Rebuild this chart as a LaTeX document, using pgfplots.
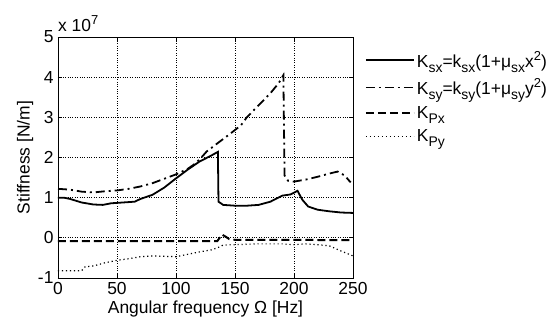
\documentclass[border=0pt]{standalone}
\usepackage{pgfplots}
\pgfplotsset{compat=1.18}
\usepackage{fontspec}
\setmainfont{Liberation Sans}
\newcommand\sub[1]{\raisebox{-0.55ex}{\fontsize{14}{14}\selectfont #1}}
\newcommand\sps[1]{\raisebox{0.75ex}{\fontsize{13}{13}\selectfont #1}}
\newcommand\fs{\fontsize{17.5}{20}\selectfont}
\begin{document}
\begin{tikzpicture}
\begin{axis}[
  scale only axis,
  width=295bp, height=241bp,
  xmin=0, xmax=250, ymin=-1, ymax=5,
  xtick={0,50,...,250}, ytick={-1,0,...,5},
  scaled ticks=false,
  /pgf/number format/assume math mode=true,
  tick label style={font=\fs},
  xticklabel style={yshift=-1bp},
  yticklabel style={xshift=-1bp},
  label style={font=\fs},
  xlabel={Angular frequency Ω [Hz]},
  ylabel={Stiffness [N/m]},
  xlabel style={yshift=1bp},
  ylabel style={yshift=-2bp},
  grid=major,
  major grid style={black, dotted, line width=0.8pt},
  axis line style={black, line width=0.9pt},
  tick align=inside,
  tick style={black, line width=0.8pt},
  major tick length=4bp,
  xtick pos=both, ytick pos=both,
  clip=true,
  legend style={draw=none, fill=none, at={(1.04,0.95)}, anchor=north west,
    font=\fs, row sep=6bp, inner sep=0pt},
  legend cell align=left,
  legend image code/.code={\draw[#1] (0bp,0bp) -- (48bp,0bp);},
]
\addplot[black, line width=1.8pt] coordinates {
(0,1.0) (5,1.0) (10,0.97) (20,0.88) (30,0.83) (38,0.82) (45,0.86) (55,0.88)
(65,0.9) (70,0.97) (80,1.07) (90,1.25) (100,1.48) (110,1.7) (120,1.9)
(130,2.05) (135.5,2.14) (136,0.9) (140,0.82) (150,0.8) (160,0.8) (170,0.82)
(180,0.9) (190,1.05) (197,1.08) (203,1.17) (207,0.95) (212,0.78) (220,0.7)
(230,0.66) (240,0.63) (250,0.62)
};
\addlegendentry{K\sub{sx}=k\sub{sx}(1+μ\sub{sx}x\sps{2})}
\addplot[black, line width=1.8pt, dash pattern=on 9bp off 4bp on 2bp off 4bp] coordinates {
(0,1.22) (10,1.2) (20,1.15) (30,1.13) (40,1.16) (50,1.18) (60,1.22) (70,1.28)
(80,1.36) (90,1.47) (100,1.58) (110,1.72) (115,1.82) (120,1.95) (126,2.15)
(135,2.35) (145,2.57) (155,2.8) (160,3.0) (170,3.3) (180,3.6) (187,3.85)
(191,4.05) (192,1.55) (195,1.42) (200,1.4) (210,1.45) (220,1.52) (230,1.6)
(237,1.65) (243,1.55) (248,1.38)
};
\addlegendentry{K\sub{sy}=k\sub{sy}(1+μ\sub{sy}y\sps{2})}
\addplot[black, line width=2pt, dash pattern=on 8bp off 4bp] coordinates {
(0,-0.08) (50,-0.08) (100,-0.08) (135,-0.08) (137,0.0) (139,0.08) (142,0.03)
(145,-0.03) (150,-0.05) (200,-0.05) (250,-0.06)
};
\addlegendentry{K\sub{Px}}
\addplot[black, line width=1.2pt, dash pattern=on 1.2bp off 2.8bp] coordinates {
(0,-0.82) (20,-0.82) (23,-0.72) (30,-0.7) (40,-0.62) (50,-0.56) (60,-0.52)
(70,-0.47) (80,-0.45) (90,-0.46) (100,-0.47) (110,-0.41) (120,-0.35)
(130,-0.3) (135,-0.25) (140,-0.18) (150,-0.17) (170,-0.15) (190,-0.15)
(200,-0.17) (210,-0.15) (220,-0.17) (230,-0.2) (240,-0.33) (250,-0.45)
};
\addlegendentry{K\sub{Py}}
\end{axis}
\node[anchor=south west, font=\fs, inner sep=0pt]
  at ([yshift=5bp]current axis.north west) {x 10\sps{7}};
\path (current axis.south west) ++(-58bp,-56bp) rectangle ++(550bp,334bp);
\end{tikzpicture}
\end{document}
